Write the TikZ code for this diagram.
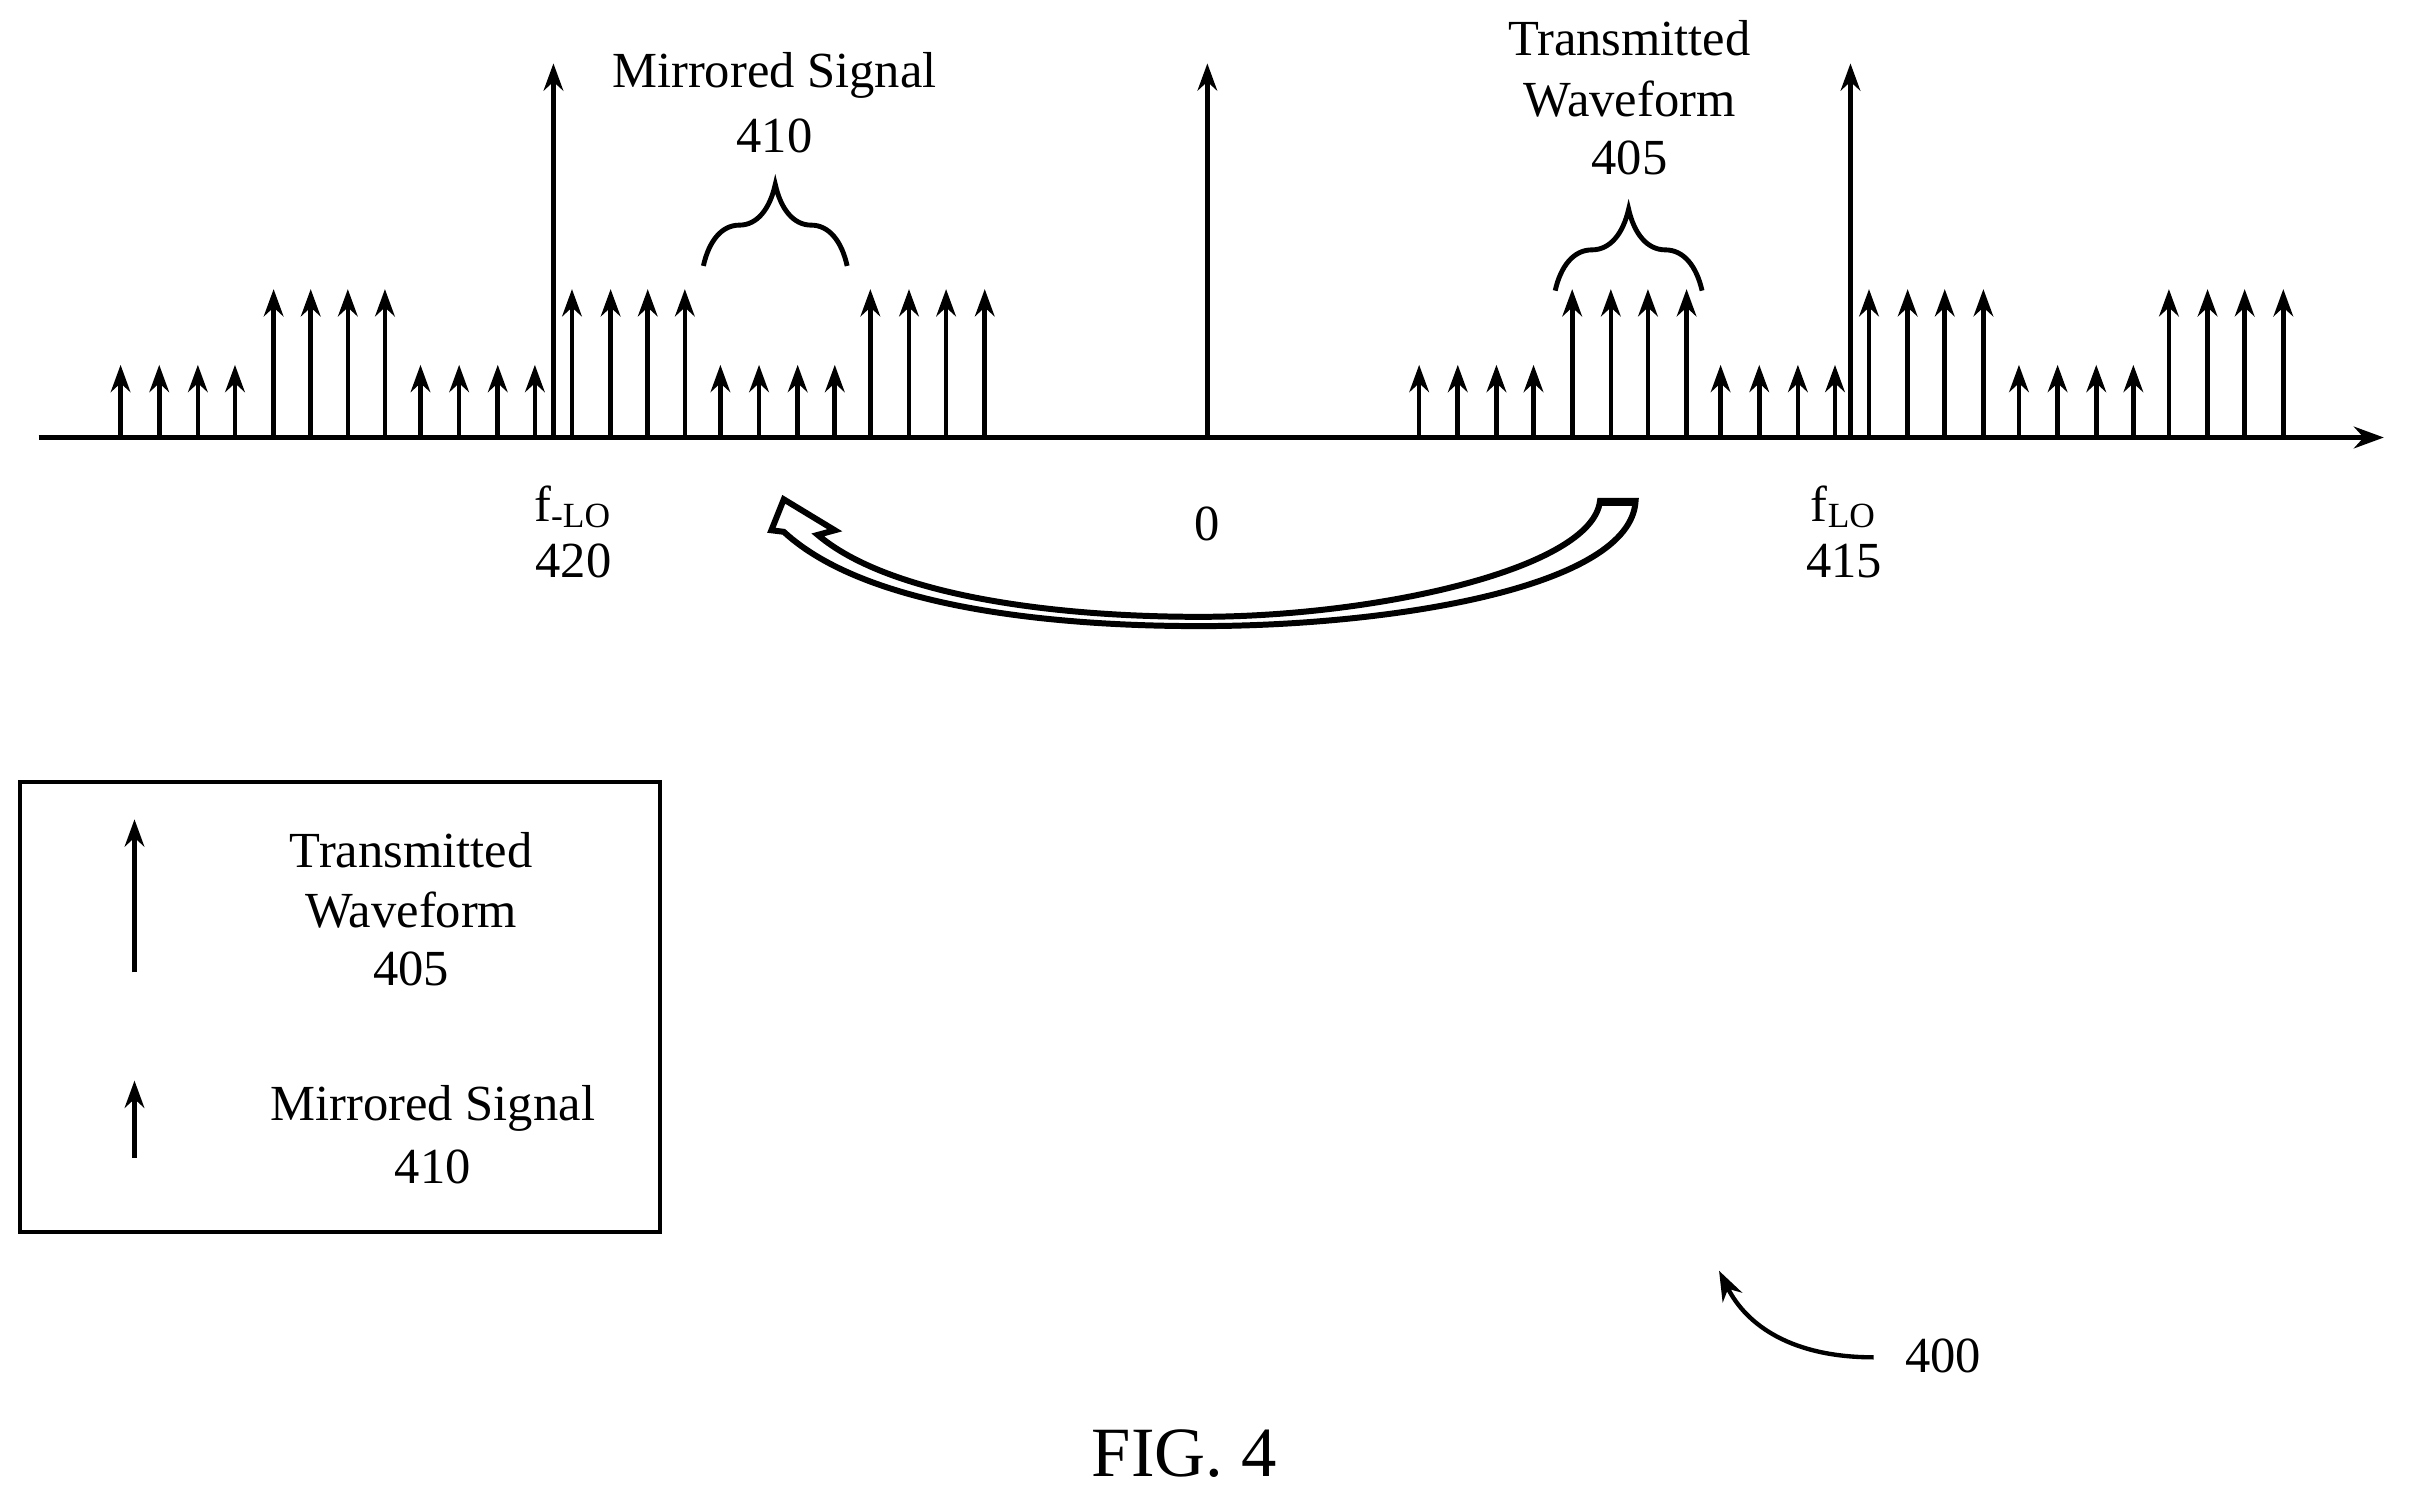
\documentclass[tikz,border=0pt]{standalone}
\usepackage{fontspec}
\setmainfont{Liberation Serif}
\usetikzlibrary{arrows.meta,decorations.pathreplacing}
\begin{document}
\begin{tikzpicture}[x=0.01cm,y=-0.01cm,
  sig/.style={line width=0.85pt,-{Stealth[length=5pt,width=3.6pt]}},
  lbl/.style={font=\fontsize{9.3}{11.1}\selectfont,align=center,inner sep=0pt},
  br/.style={line width=0.9pt,decorate,decoration={brace,amplitude=15pt,aspect=0.5}}]
\useasboundingbox (0,0) rectangle (1568,969);
% axis
\coordinate (a0) at (25,283); \coordinate (a1) at (1542,283);
\draw[line width=0.85pt,-{Stealth[length=5.5pt,width=4pt]}] (a0) -- (a1);
% small arrows
\foreach \x in {78,103,128,152,272,297,322,346,466,491,516,540,918,943,968,992,1113,1138,1163,1187,1306,1331,1356,1380}
  {\coordinate (s\x) at (\x,283); \draw[sig] (s\x) -- ++(0,-47);}
\foreach \x in {177,201,225,249,370,395,419,443,563,588,612,637,1017,1042,1066,1091,1209,1234,1258,1283,1403,1428,1452,1477}
  {\coordinate (t\x) at (\x,283); \draw[sig] (t\x) -- ++(0,-96);}
\foreach \x in {358,781,1197}
  {\coordinate (l\x) at (\x,283); \draw[sig,line width=1pt] (l\x) -- ++(0,-242);}
% braces
\coordinate (b1a) at (455,172); \coordinate (b1b) at (548,172);
\draw[br] (b1a) -- (b1b);
\coordinate (b2a) at (1006,188); \coordinate (b2b) at (1101,188);
\draw[br] (b2a) -- (b2b);
\node[lbl] (m1) at (501,49) {Mirrored Signal};
\node[lbl] (m2) at (501,88) {410};
\node[lbl] (w1) at (1054,25) {Transmitted};
\node[lbl] (w2) at (1054,64) {Waveform};
\node[lbl] (w3) at (1054,102) {405};
\node[lbl] (fm) at (371,328) {f\textsubscript{-LO}};
\node[lbl] (fm2) at (371,363) {420};
\node[lbl] (z) at (781,339) {0};
\node[lbl] (fp) at (1193,328) {f\textsubscript{LO}};
\node[lbl] (fp2) at (1193,363) {415};
% hollow arrow
\draw[line width=1.1pt,line join=miter,fill=white] (507,323) -- (499,343) -- (507,344)
  .. controls (560,393) and (680,405) .. (776,405)
  .. controls (900,405) and (1055,380) .. (1058,324)
  -- (1035,324)
  .. controls (1030,368) and (890,399) .. (776,399)
  .. controls (680,399) and (575,385) .. (529,346)
  -- (540,343) -- cycle;
\fill (1035,322) rectangle (1058,327);
% legend
\coordinate (k0) at (13,506); \coordinate (k1) at (427,797);
\draw[line width=0.8pt] (k0) rectangle (k1);
\coordinate (g1) at (87,629); \coordinate (g1e) at (87,530); \draw[sig] (g1) -- (g1e);
\coordinate (g2) at (87,749); \coordinate (g2e) at (87,699); \draw[sig] (g2) -- (g2e);
\node[lbl] (lt1) at (266,550) {Transmitted};
\node[lbl] (lt2) at (266,589) {Waveform};
\node[lbl] (lt3) at (266,627) {405};
\node[lbl] (lm1) at (280,717) {Mirrored Signal};
\node[lbl] (lm2) at (280,755) {410};
% ref 400
\node[lbl] (r400) at (1257,877) {400};
\coordinate (r0) at (1212,878); \coordinate (r1) at (1112,822);
\draw[line width=0.8pt,-{Stealth[length=5.5pt,width=4pt]}] (r0) .. controls (1160,878) and (1130,858) .. (r1);
\node[font=\fontsize{13}{15}\selectfont,inner sep=0pt] (fig) at (766,940) {FIG. 4};
\end{tikzpicture}
\end{document}
